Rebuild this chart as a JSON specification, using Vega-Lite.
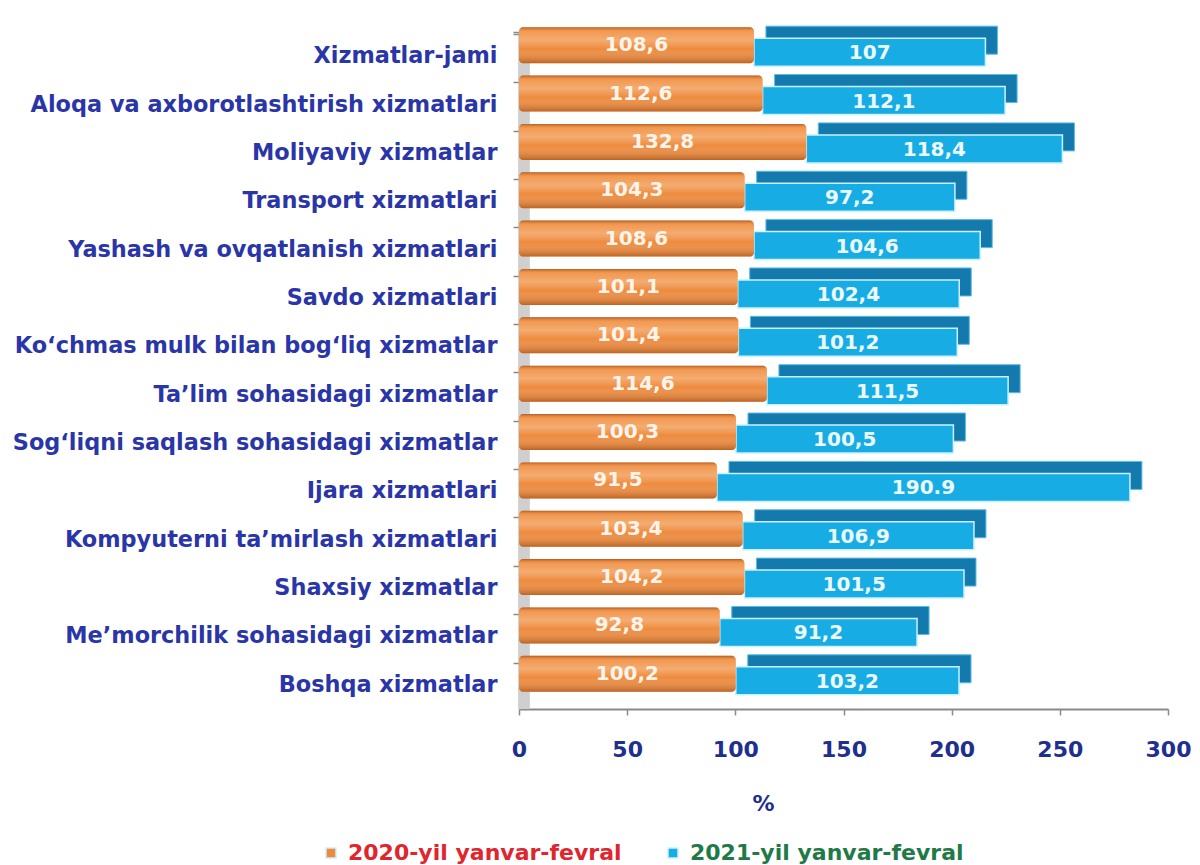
{
  "$schema": "https://vega.github.io/schema/vega-lite/v6.json",
  "width": 649,
  "height": 677,
  "autosize": {"type": "none"},
  "padding": {"left": 519, "top": 32, "right": 32, "bottom": 156},
  "background": "white",
  "config": {"view": {"stroke": null}, "font": "DejaVu Sans"},
  "data": {"values": [
    {"cat": "Xizmatlar-jami", "year": "2020-yil yanvar-fevral", "value": 108.6, "label": "108,6"},
    {"cat": "Xizmatlar-jami", "year": "2021-yil yanvar-fevral", "value": 107, "label": "107"},
    {"cat": "Aloqa va axborotlashtirish xizmatlari", "year": "2020-yil yanvar-fevral", "value": 112.6, "label": "112,6"},
    {"cat": "Aloqa va axborotlashtirish xizmatlari", "year": "2021-yil yanvar-fevral", "value": 112.1, "label": "112,1"},
    {"cat": "Moliyaviy xizmatlar", "year": "2020-yil yanvar-fevral", "value": 132.8, "label": "132,8"},
    {"cat": "Moliyaviy xizmatlar", "year": "2021-yil yanvar-fevral", "value": 118.4, "label": "118,4"},
    {"cat": "Transport xizmatlari", "year": "2020-yil yanvar-fevral", "value": 104.3, "label": "104,3"},
    {"cat": "Transport xizmatlari", "year": "2021-yil yanvar-fevral", "value": 97.2, "label": "97,2"},
    {"cat": "Yashash va ovqatlanish xizmatlari", "year": "2020-yil yanvar-fevral", "value": 108.6, "label": "108,6"},
    {"cat": "Yashash va ovqatlanish xizmatlari", "year": "2021-yil yanvar-fevral", "value": 104.6, "label": "104,6"},
    {"cat": "Savdo xizmatlari", "year": "2020-yil yanvar-fevral", "value": 101.1, "label": "101,1"},
    {"cat": "Savdo xizmatlari", "year": "2021-yil yanvar-fevral", "value": 102.4, "label": "102,4"},
    {"cat": "Ko‘chmas mulk bilan bog‘liq xizmatlar", "year": "2020-yil yanvar-fevral", "value": 101.4, "label": "101,4"},
    {"cat": "Ko‘chmas mulk bilan bog‘liq xizmatlar", "year": "2021-yil yanvar-fevral", "value": 101.2, "label": "101,2"},
    {"cat": "Ta’lim sohasidagi xizmatlar", "year": "2020-yil yanvar-fevral", "value": 114.6, "label": "114,6"},
    {"cat": "Ta’lim sohasidagi xizmatlar", "year": "2021-yil yanvar-fevral", "value": 111.5, "label": "111,5"},
    {"cat": "Sog‘liqni saqlash sohasidagi xizmatlar", "year": "2020-yil yanvar-fevral", "value": 100.3, "label": "100,3"},
    {"cat": "Sog‘liqni saqlash sohasidagi xizmatlar", "year": "2021-yil yanvar-fevral", "value": 100.5, "label": "100,5"},
    {"cat": "Ijara xizmatlari", "year": "2020-yil yanvar-fevral", "value": 91.5, "label": "91,5"},
    {"cat": "Ijara xizmatlari", "year": "2021-yil yanvar-fevral", "value": 190.9, "label": "190.9"},
    {"cat": "Kompyuterni ta’mirlash xizmatlari", "year": "2020-yil yanvar-fevral", "value": 103.4, "label": "103,4"},
    {"cat": "Kompyuterni ta’mirlash xizmatlari", "year": "2021-yil yanvar-fevral", "value": 106.9, "label": "106,9"},
    {"cat": "Shaxsiy xizmatlar", "year": "2020-yil yanvar-fevral", "value": 104.2, "label": "104,2"},
    {"cat": "Shaxsiy xizmatlar", "year": "2021-yil yanvar-fevral", "value": 101.5, "label": "101,5"},
    {"cat": "Me’morchilik sohasidagi xizmatlar", "year": "2020-yil yanvar-fevral", "value": 92.8, "label": "92,8"},
    {"cat": "Me’morchilik sohasidagi xizmatlar", "year": "2021-yil yanvar-fevral", "value": 91.2, "label": "91,2"},
    {"cat": "Boshqa xizmatlar", "year": "2020-yil yanvar-fevral", "value": 100.2, "label": "100,2"},
    {"cat": "Boshqa xizmatlar", "year": "2021-yil yanvar-fevral", "value": 103.2, "label": "103,2"}
  ]},
  "encoding": {
    "y": {
      "field": "cat", "type": "nominal", "sort": null, "title": null,
      "axis": {
        "bandPosition": 0, "tickExtra": true,
        "domainColor": "#a8a8a8", "domainWidth": 2,
        "tickColor": "#8a8a8a", "tickSize": 6, "tickWidth": 1.5,
        "labelFont": "DejaVu Sans", "labelFontWeight": "bold", "labelFontSize": 22.4,
        "labelColor": "#2a36a8", "labelPadding": 16, "labelLimit": 600
      }
    }
  },
  "layer": [
    {
      "data": {"values": [{}]},
      "mark": {"type": "rect", "color": "#cfcfcf"},
      "encoding": {"x": {"datum": 0, "type": "quantitative"}, "x2": {"datum": 5}, "y": null}
    },
    {
      "transform": [
        {"stack": "value", "groupby": ["cat"], "sort": [{"field": "year", "order": "ascending"}], "as": ["v0", "v1"]},
        {"filter": "datum.year == '2021-yil yanvar-fevral'"}
      ],
      "mark": {"type": "bar", "height": 28, "xOffset": 12, "x2Offset": 12, "yOffset": -16, "color": "#1479ad", "stroke": "#58bde4", "strokeWidth": 1},
      "encoding": {
        "x": {"field": "v0", "type": "quantitative"},
        "x2": {"field": "v1"}
      }
    },
    {
      "transform": [
        {"stack": "value", "groupby": ["cat"], "sort": [{"field": "year", "order": "ascending"}], "as": ["v0", "v1"]},
        {"filter": "datum.year == '2021-yil yanvar-fevral'"}
      ],
      "mark": {"type": "bar", "height": 28, "yOffset": -4, "stroke": "#c8f2ff", "strokeWidth": 1.5},
      "encoding": {
        "x": {"field": "v0", "type": "quantitative",
          "scale": {"domain": [0, 300], "nice": false},
          "title": "%",
          "axis": {
            "values": [0, 50, 100, 150, 200, 250, 300], "grid": false, "labelFlush": false,
            "domainColor": "#8a8a8a", "domainWidth": 2,
            "tickColor": "#8a8a8a", "tickSize": 6, "tickWidth": 1.5,
            "labelFont": "DejaVu Sans", "labelFontWeight": "bold", "labelFontSize": 22,
            "labelColor": "#1e2f8f", "labelPadding": 24,
            "titleFont": "DejaVu Sans", "titleFontWeight": "bold", "titleFontSize": 22,
            "titleColor": "#1e2f8f", "titleX": 244, "titleY": 94, "titleBaseline": "middle", "titleAlign": "center"
          }
        },
        "x2": {"field": "v1"},
        "color": {
          "field": "year", "type": "nominal",
          "scale": {"domain": ["2020-yil yanvar-fevral", "2021-yil yanvar-fevral"], "range": ["#ee8a3c", "#18ace4"]},
          "legend": {
            "title": null, "orient": "none", "legendX": -199, "legendY": 810,
            "direction": "horizontal", "symbolType": "square", "symbolSize": 100,
            "labelFont": "DejaVu Sans", "labelFontWeight": "bold", "labelFontSize": 22,
            "labelLimit": 500, "labelOffset": 6, "columnPadding": 40, "padding": 0,
            "labelColor": {"expr": "datum.value == '2020-yil yanvar-fevral' ? '#e1252e' : '#1f7a48'"}
          }
        }
      }
    },
    {
      "transform": [
        {"stack": "value", "groupby": ["cat"], "sort": [{"field": "year", "order": "ascending"}], "as": ["v0", "v1"]},
        {"filter": "datum.year == '2020-yil yanvar-fevral'"}
      ],
      "mark": {"type": "bar", "height": 36, "yOffset": -11, "cornerRadius": 4},
      "encoding": {
        "x": {"field": "v0", "type": "quantitative"},
        "x2": {"field": "v1"},
        "color": {"field": "year", "type": "nominal"}
      }
    },
    {
      "transform": [
        {"stack": "value", "groupby": ["cat"], "sort": [{"field": "year", "order": "ascending"}], "as": ["v0", "v1"]},
        {"filter": "datum.year == '2020-yil yanvar-fevral'"}
      ],
      "mark": {"type": "bar", "height": 36, "yOffset": -11, "cornerRadius": 4,
        "fill": {"gradient": "linear", "x1": 0, "y1": 0, "x2": 0, "y2": 1, "stops": [
          {"offset": 0, "color": "rgba(140,55,0,0.55)"},
          {"offset": 0.12, "color": "rgba(255,200,150,0.25)"},
          {"offset": 0.35, "color": "rgba(255,235,210,0.35)"},
          {"offset": 0.6, "color": "rgba(255,255,255,0)"},
          {"offset": 1, "color": "rgba(130,50,0,0.45)"}
        ]}},
      "encoding": {
        "x": {"field": "v0", "type": "quantitative"},
        "x2": {"field": "v1"}
      }
    },
    {
      "mark": {"type": "text", "font": "DejaVu Sans", "fontWeight": "bold", "fontSize": 20, "color": "#fff4ea", "yOffset": -11, "baseline": "middle", "align": "center"},
      "encoding": {
        "x": {"field": "value", "type": "quantitative", "stack": "zero", "bandPosition": 0.5},
        "detail": {"field": "year"},
        "order": {"field": "year"},
        "text": {"field": "label"},
        "opacity": {"condition": {"test": "datum.year == '2020-yil yanvar-fevral'", "value": 1}, "value": 0}
      }
    },
    {
      "mark": {"type": "text", "font": "DejaVu Sans", "fontWeight": "bold", "fontSize": 20, "color": "#eafaff", "yOffset": -3, "baseline": "middle", "align": "center"},
      "encoding": {
        "x": {"field": "value", "type": "quantitative", "stack": "zero", "bandPosition": 0.5},
        "detail": {"field": "year"},
        "order": {"field": "year"},
        "text": {"field": "label"},
        "opacity": {"condition": {"test": "datum.year == '2021-yil yanvar-fevral'", "value": 1}, "value": 0}
      }
    }
  ]
}
